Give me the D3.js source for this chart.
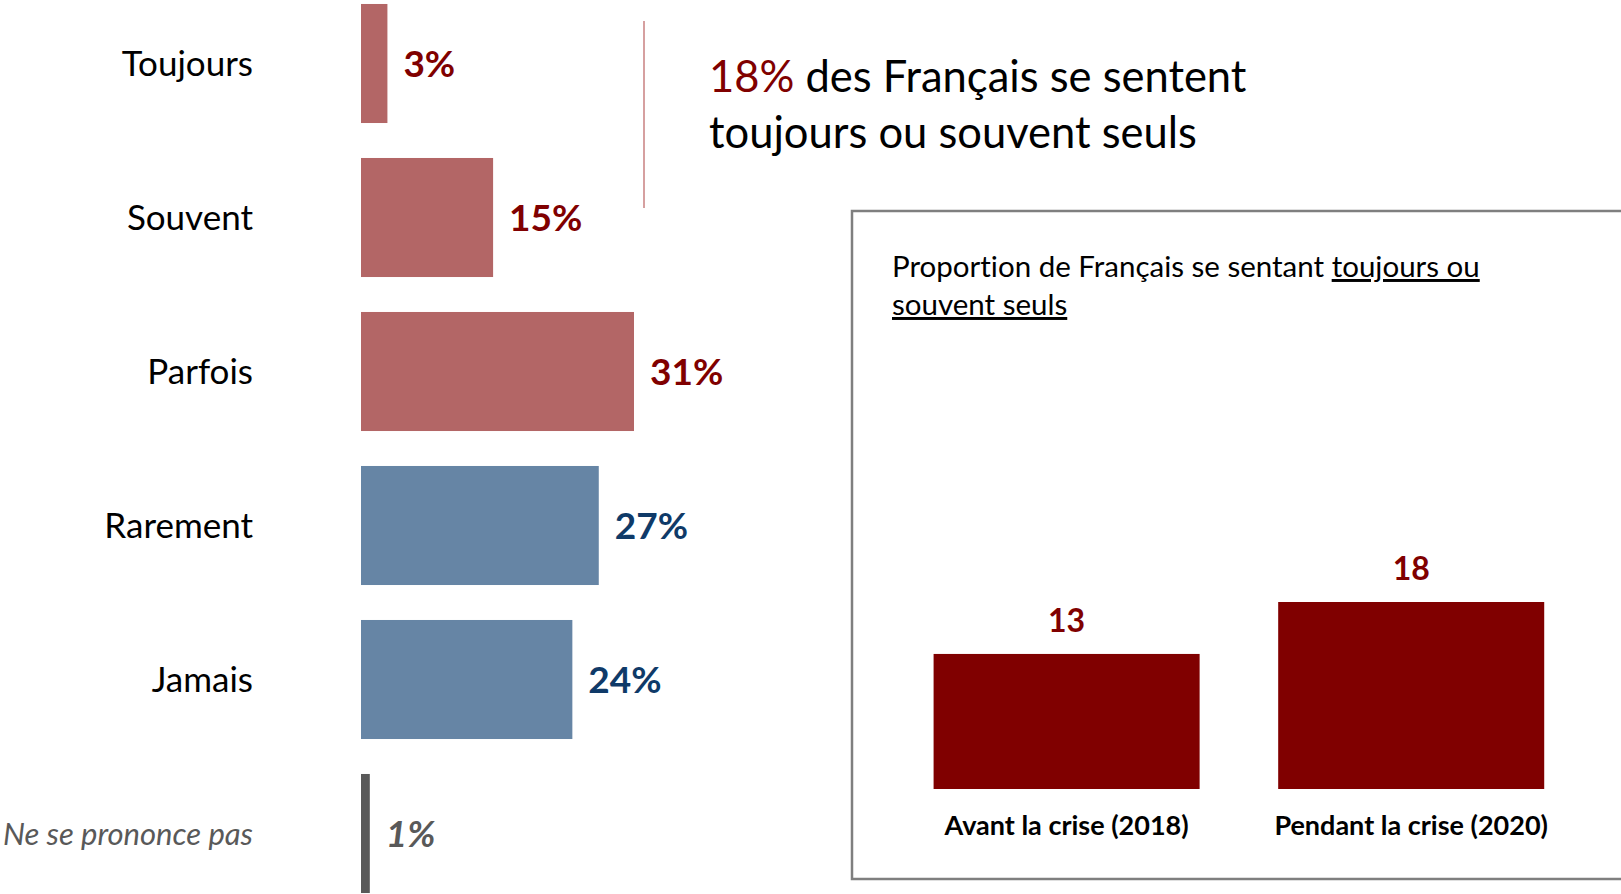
<!DOCTYPE html>
<meta charset="utf-8">
<script src="https://d3js.org/d3.v7.min.js"></script>
<style>
  body { margin: 0; background: #fff; }
  svg { display: block; font-family: 'Lato', sans-serif; font-variant-ligatures: none; }
</style>
<body>
<div id="my_dataviz"></div>
</body>
<script>

// main question: how often do people feel lonely
var categories = ["Toujours", "Souvent", "Parfois", "Rarement", "Jamais", "Ne se prononce pas"];
var values = [3, 15, 31, 27, 24, 1];
var groups = ["red", "red", "red", "blue", "blue", "nsp"];

// inset: toujours + souvent, before / during the crisis
var periods = ["Avant la crise (2018)", "Pendant la crise (2020)"];
var periodValues = [13, 18];

var width = 1621, height = 894;

var svg = d3.select("#my_dataviz")
  .append("svg")
    .attr("width", width)
    .attr("height", height);

var barColor = { red: "#b36666", blue: "#6685a5", nsp: "#595959" };
var labelColor = { red: "#800000", blue: "#0f3a68", nsp: "#595959" };

// Left horizontal bars
var x = d3.scaleLinear()
  .domain([0, 31])
  .range([361, 634]);

var y = d3.scaleBand()
  .domain(categories)
  .range([-13.5, 910.5])
  .paddingInner(0.227)
  .paddingOuter(0.1135);

var rows = categories.map(function(c, i) { return { cat: c, val: values[i], grp: groups[i] }; });

svg.append("g")
  .selectAll("rect")
  .data(rows)
  .enter()
  .append("rect")
    .attr("x", x(0))
    .attr("y", function(d) { return y(d.cat); })
    .attr("width", function(d) { return x(d.val) - x(0); })
    .attr("height", y.bandwidth())
    .attr("fill", function(d) { return barColor[d.grp]; });

// category labels
svg.append("g")
  .selectAll("text")
  .data(rows)
  .enter()
  .append("text")
    .attr("x", 253)
    .attr("y", function(d) { return y(d.cat) + y.bandwidth() / 2; })
    .attr("dy", "0.36em")
    .attr("text-anchor", "end")
    .style("font-size", function(d) { return d.grp == "nsp" ? "31px" : "35px"; })
    .style("font-style", function(d) { return d.grp == "nsp" ? "italic" : "normal"; })
    .attr("fill", function(d) { return d.grp == "nsp" ? "#595959" : "#000"; })
    .text(function(d) { return d.cat; });

// value labels
svg.append("g")
  .selectAll("text")
  .data(rows)
  .enter()
  .append("text")
    .attr("x", function(d) { return x(d.val) + 16; })
    .attr("y", function(d) { return y(d.cat) + y.bandwidth() / 2; })
    .attr("dy", "0.36em")
    .style("font-size", "37px")
    .style("font-weight", "bold")
    .style("font-style", function(d) { return d.grp == "nsp" ? "italic" : "normal"; })
    .attr("fill", function(d) { return labelColor[d.grp]; })
    .text(function(d) { return d.val + "%"; });

// separator line next to the headline
svg.append("line")
  .attr("x1", 644).attr("x2", 644)
  .attr("y1", 21).attr("y2", 208)
  .attr("stroke", "#c98080")
  .attr("stroke-width", 1.5);

// headline
var head = svg.append("text")
  .attr("x", 709)
  .attr("y", 92)
  .style("font-size", "43.5px")
  .attr("fill", "#000");
head.append("tspan").attr("fill", "#800000").text("18%");
head.append("tspan").text(" des Français se sentent");
svg.append("text")
  .attr("x", 709)
  .attr("y", 148)
  .style("font-size", "43.5px")
  .attr("fill", "#000")
  .text("toujours ou souvent seuls");

// inset box
svg.append("rect")
  .attr("x", 852)
  .attr("y", 211)
  .attr("width", 800)
  .attr("height", 668)
  .attr("fill", "none")
  .attr("stroke", "#7f7f7f")
  .attr("stroke-width", 2.5);

var t1 = svg.append("text")
  .attr("x", 892)
  .attr("y", 277)
  .style("font-size", "29.5px")
  .attr("fill", "#000");
t1.append("tspan").text("Proportion de Français se sentant ");
t1.append("tspan").style("text-decoration", "underline").text("toujours ou");
svg.append("text")
  .attr("x", 892)
  .attr("y", 315)
  .style("font-size", "29.5px")
  .attr("fill", "#000")
  .style("text-decoration", "underline")
  .text("souvent seuls");

var x2 = d3.scaleBand()
  .domain(periods)
  .range([894.3, 1583.5])
  .paddingInner(0.228)
  .paddingOuter(0.114);

var y2 = d3.scaleLinear()
  .domain([0, 18])
  .range([789, 602]);

var inset = periods.map(function(p, i) { return { p: p, val: periodValues[i] }; });

svg.append("g")
  .selectAll("rect")
  .data(inset)
  .enter()
  .append("rect")
    .attr("x", function(d) { return x2(d.p); })
    .attr("y", function(d) { return y2(d.val); })
    .attr("width", x2.bandwidth())
    .attr("height", function(d) { return y2(0) - y2(d.val); })
    .attr("fill", "#800000");

svg.append("g")
  .selectAll("text")
  .data(inset)
  .enter()
  .append("text")
    .attr("x", function(d) { return x2(d.p) + x2.bandwidth() / 2; })
    .attr("y", function(d) { return y2(d.val) - 22; })
    .attr("text-anchor", "middle")
    .style("font-size", "32px")
    .style("font-weight", "bold")
    .attr("fill", "#800000")
    .text(function(d) { return d.val; });

svg.append("g")
  .selectAll("text")
  .data(inset)
  .enter()
  .append("text")
    .attr("x", function(d) { return x2(d.p) + x2.bandwidth() / 2; })
    .attr("y", 835)
    .attr("text-anchor", "middle")
    .style("font-size", "27px")
    .style("font-weight", "bold")
    .attr("fill", "#000")
    .text(function(d) { return d.p; });

</script>
